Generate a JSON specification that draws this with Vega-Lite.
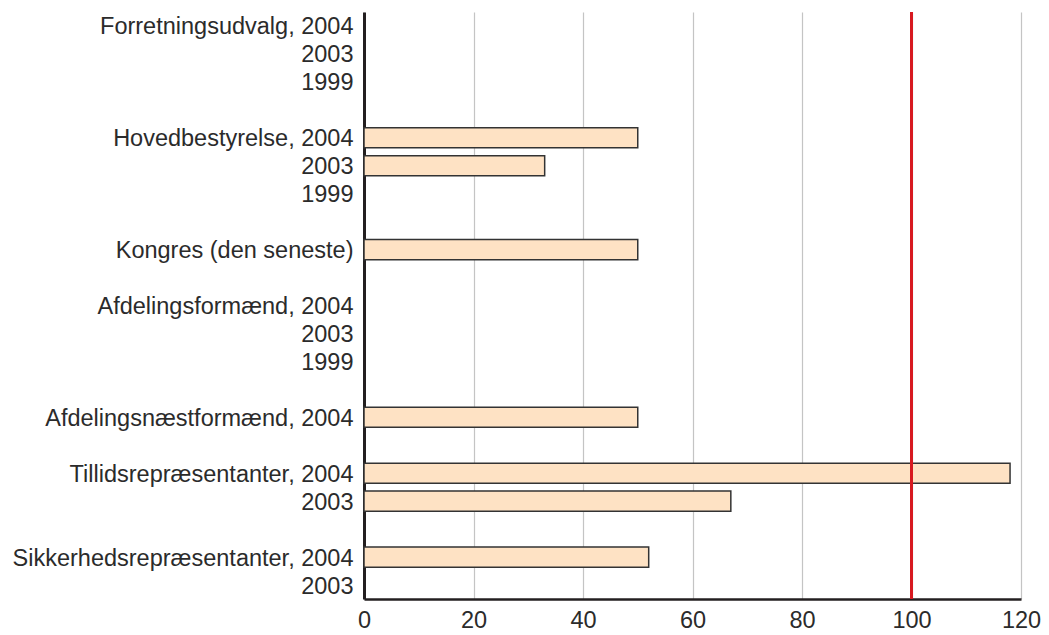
{
  "$schema": "https://vega.github.io/schema/vega-lite/v6.json",
  "autosize": "none",
  "width": 657,
  "height": 587,
  "padding": {"left": 364, "top": 12, "right": 28, "bottom": 36},
  "background": "white",
  "config": {
    "view": {"stroke": null},
    "font": "Liberation Sans",
    "axis": {"labelFont": "Liberation Sans", "labelFontSize": 23.5, "labelColor": "#2b2b2b", "ticks": false, "title": null, "labelLimit": 400}
  },
  "data": {
    "values": [
      {"row": "01|Forretningsudvalg, 2004", "value": null},
      {"row": "02|2003", "value": null},
      {"row": "03|1999", "value": null},
      {"row": "04|", "value": null},
      {"row": "05|Hovedbestyrelse, 2004", "value": 50},
      {"row": "06|2003", "value": 33},
      {"row": "07|1999", "value": null},
      {"row": "08|", "value": null},
      {"row": "09|Kongres (den seneste)", "value": 50},
      {"row": "10|", "value": null},
      {"row": "11|Afdelingsformænd, 2004", "value": null},
      {"row": "12|2003", "value": null},
      {"row": "13|1999", "value": null},
      {"row": "14|", "value": null},
      {"row": "15|Afdelingsnæstformænd, 2004", "value": 50},
      {"row": "16|", "value": null},
      {"row": "17|Tillidsrepræsentanter, 2004", "value": 118},
      {"row": "18|2003", "value": 67},
      {"row": "19|", "value": null},
      {"row": "20|Sikkerhedsrepræsentanter, 2004", "value": 52},
      {"row": "21|2003", "value": null}
    ]
  },
  "layer": [
    {
      "mark": {"type": "bar", "fill": "#fee2c4", "stroke": "#333333", "strokeWidth": 1.5},
      "encoding": {
        "y": {
          "field": "row", "type": "nominal", "sort": null,
          "scale": {
            "domain": ["01|Forretningsudvalg, 2004", "02|2003", "03|1999", "04|", "05|Hovedbestyrelse, 2004", "06|2003", "07|1999", "08|", "09|Kongres (den seneste)", "10|", "11|Afdelingsformænd, 2004", "12|2003", "13|1999", "14|", "15|Afdelingsnæstformænd, 2004", "16|", "17|Tillidsrepræsentanter, 2004", "18|2003", "19|", "20|Sikkerhedsrepræsentanter, 2004", "21|2003"],
            "paddingInner": 0.28, "paddingOuter": 0.14
          },
          "axis": {
            "labelExpr": "split(datum.value, '|')[1]",
            "domain": true, "domainColor": "#231f20", "domainWidth": 3,
            "labelPadding": 11, "labelOffset": 1.5, "grid": false
          }
        },
        "x": {
          "field": "value", "type": "quantitative",
          "scale": {"domain": [0, 120], "nice": false},
          "axis": {
            "values": [0, 20, 40, 60, 80, 100, 120],
            "domain": true, "domainColor": "#231f20", "domainWidth": 2.5,
            "grid": true, "gridColor": "#c4c4c4", "gridWidth": 1.2,
            "labelPadding": 9, "labelFlush": false
          }
        }
      }
    },
    {
      "mark": {"type": "rule", "color": "#d71920", "strokeWidth": 3},
      "encoding": {"x": {"datum": 100, "type": "quantitative"}}
    }
  ]
}
